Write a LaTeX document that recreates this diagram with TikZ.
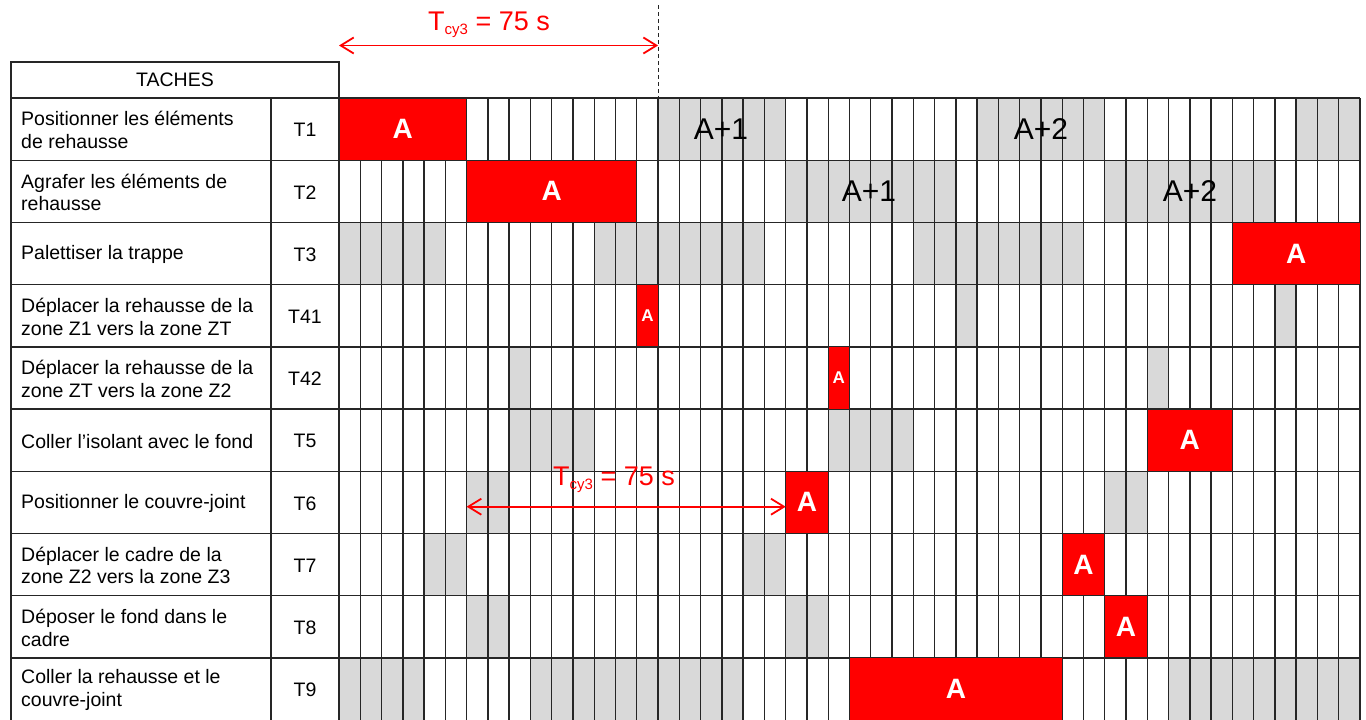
\documentclass[tikz,border=0pt]{standalone}
\usepackage{fontspec}
\setmainfont{Liberation Sans}
\usetikzlibrary{arrows.meta}
\definecolor{ganttred}{HTML}{FF0000}
\definecolor{ganttgray}{HTML}{D9D9D9}
\definecolor{gridcol}{HTML}{262626}
\begin{document}
\begin{tikzpicture}[x=1pt,y=-1pt,
  gridline/.style={draw=gridcol,line width=1.4pt},
  redblock/.style={fill=ganttred,draw=gridcol,line width=1pt,text=white,inner sep=0pt,outer sep=0pt,minimum height=62.2pt},
  bigA/.style={font=\fontsize{28}{28}\selectfont\bfseries},
  smallA/.style={font=\fontsize{17}{17}\selectfont\bfseries},
  nextlab/.style={font=\fontsize{30}{30}\selectfont,inner sep=0pt},
  tasklab/.style={font=\fontsize{19.5}{22.5}\selectfont,align=left,anchor=west,inner sep=0pt},
  idlab/.style={font=\fontsize{19.5}{22.5}\selectfont,inner sep=0pt},
  cyarrow/.style={draw=ganttred,line width=1.8pt,{Straight Barb[length=13pt,width=16pt]}-{Straight Barb[length=13pt,width=16pt]}},
  cylab/.style={text=ganttred,inner sep=0pt,anchor=base west,font=\fontsize{27}{27}\selectfont}
]
\useasboundingbox (0,0) rectangle (1366,720);
\clip (0,0) rectangle (1366,720);
\fill[white] (0,0) rectangle (1366,720);

% gray cells
\foreach \r/\a/\b in {0/15/20,0/30/35,0/45/47,
  1/21/28,1/36/43,
  2/0/4,2/12/19,2/27/34,
  3/29/29,3/44/44,
  4/8/8,4/38/38,
  5/8/11,5/23/26,
  6/6/7,6/36/37,
  7/4/5,7/19/20,
  8/6/7,8/21/22,
  9/0/3,9/9/18,9/39/47}
  \fill[ganttgray] ({339+21.2708*\a},{98+62.2*\r}) rectangle ({339+21.2708*(\b+1)},{98+62.2*(\r+1)});

% vertical grid lines
\foreach \c in {0,...,48}
  \draw[gridline] ({339+21.2708*\c},98) -- ({339+21.2708*\c},730);
% horizontal lines
\foreach \r in {0,...,9}
  \draw[gridline] (11,{98+62.2*\r}) -- (1360,{98+62.2*\r});
% left table
\draw[gridline] (11,98) -- (11,730);
\draw[gridline] (271,98) -- (271,730);
\draw[gridline] (11,62) rectangle (339,98);
\node[idlab] (head) at (175,80) {TACHES};

% task labels
\foreach \r/\t/\i in {0/{Positionner les éléments\\de rehausse}/T1,
  1/{Agrafer les éléments de\\rehausse}/T2,
  2/{Palettiser la trappe}/T3,
  3/{Déplacer la rehausse de la\\zone Z1 vers la zone ZT}/T41,
  4/{Déplacer la rehausse de la\\zone ZT vers la zone Z2}/T42,
  5/{Coller l’isolant avec le fond}/T5,
  6/{Positionner le couvre-joint}/T6,
  7/{Déplacer le cadre de la\\zone Z2 vers la zone Z3}/T7,
  8/{Déposer le fond dans le\\cadre}/T8,
  9/{Coller la rehausse et le\\couvre-joint}/T9}
{
  \node[tasklab] (name\i) at (21,{98+62.2*(\r+0.5)+1}) {\t};
  \node[idlab] (id\i) at (305,{98+62.2*(\r+0.5)+1}) {\i};
}

% red blocks
\foreach \r/\a/\b/\nm in {0/0/5/aT1,1/6/13/aT2,2/42/47/aT3,5/38/41/aT5,6/21/22/aT6,7/34/35/aT7,8/36/37/aT8,9/24/33/aT9}
  \node[redblock,bigA,minimum width={21.2708*(\b-\a+1)}] (\nm) at ({339+21.2708*(\a+\b+1)/2},{98+62.2*(\r+0.5)}) {A};
\foreach \r/\a/\nm in {3/14/aT41,4/23/aT42}
  \node[redblock,smallA,minimum width=21.2708] (\nm) at ({339+21.2708*(\a+0.5)},{98+62.2*(\r+0.5)}) {A};

% next-cycle labels
\node[nextlab] (n11) at (721,129) {A+1};
\node[nextlab] (n12) at (1041,129) {A+2};
\node[nextlab] (n21) at (869,191) {A+1};
\node[nextlab] (n22) at (1190,191) {A+2};

% cycle time markers
\coordinate (d0) at (658.1,5);
\coordinate (d1) at (658.1,98);
\draw[draw=gridcol,line width=1.1pt,dash pattern=on 4pt off 3pt] (d0) -- (d1);
\coordinate (p0) at (339,45.5);
\coordinate (p15) at (658.1,45.5);
\draw[cyarrow] (p0) -- (p15);
\node[cylab] (cy1) at (428,30.7) {T\raisebox{-4pt}{\fontsize{15}{15}\selectfont cy3} = 75 s};
\coordinate (q6) at (466.6,506.7);
\coordinate (q21) at (785.7,506.7);
\draw[cyarrow] (q6) -- (q21);
\node[cylab] (cy2) at (553,485) {T\raisebox{-4pt}{\fontsize{15}{15}\selectfont cy3} = 75 s};
\end{tikzpicture}
\end{document}
